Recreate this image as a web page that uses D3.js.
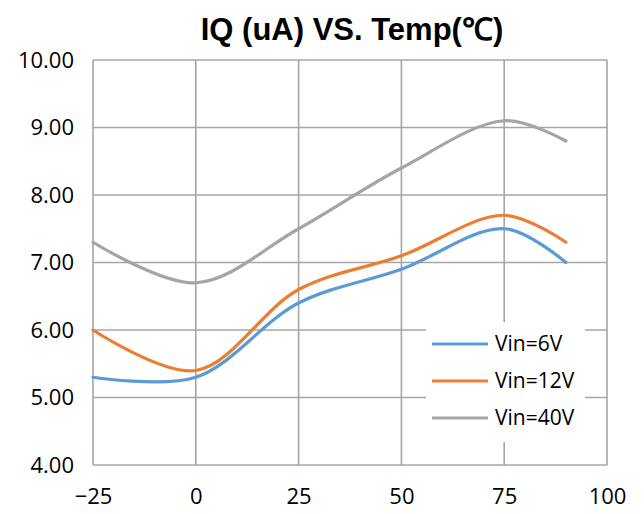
<!DOCTYPE html>
<html><head><meta charset="utf-8">
<script src="https://cdn.jsdelivr.net/npm/d3@7"></script>
<style>body{margin:0;background:#fff}svg{display:block}</style>
</head><body>
<script>
const temps = [-25, 0, 25, 50, 75, 90];
const vin6 = [5.30, 5.30, 6.40, 6.90, 7.50, 7.00];
const vin12 = [6.00, 5.40, 6.60, 7.10, 7.70, 7.30];
const vin40 = [7.30, 6.70, 7.50, 8.40, 9.10, 8.80];
const seriesNames = ["Vin=6V", "Vin=12V", "Vin=40V"];
const seriesColors = ["#5B9BD5", "#ED7D31", "#A5A5A5"];
const xTicks = [-25, 0, 25, 50, 75, 100];
const yTicks = [4, 5, 6, 7, 8, 9, 10];
const title = "IQ (uA) VS. Temp(\u2103)";

const W = 644, H = 514;
const svg = d3.select("body").append("svg").attr("width", W).attr("height", H);
const x = d3.scaleLinear().domain([-25, 100]).range([93, 607]);
const y = d3.scaleLinear().domain([4, 10]).range([465, 60]);
const font = "'Open Sans', sans-serif";

// grid
svg.append("g").selectAll("line.h").data(yTicks).join("line")
  .attr("x1", x(-25)).attr("x2", x(100)).attr("y1", d => y(d)).attr("y2", d => y(d))
  .attr("stroke", "#A6A6A6").attr("stroke-width", 1.6);
svg.append("g").selectAll("line.v").data(xTicks).join("line")
  .attr("y1", y(4)).attr("y2", y(10)).attr("x1", d => x(d)).attr("x2", d => x(d))
  .attr("stroke", "#A6A6A6").attr("stroke-width", 1.6);

// axes labels
const yAxis = d3.axisLeft(y).tickValues(yTicks).tickFormat(d3.format(".2f")).tickSize(0).tickPadding(19);
const gy = svg.append("g").attr("transform", `translate(${x(-25)},0)`).call(yAxis);
gy.select(".domain").remove();
gy.selectAll("text").attr("font-family", font).attr("font-size", 22).attr("fill", "#000");

const xAxis = d3.axisBottom(x).tickValues(xTicks).tickFormat(d3.format("d")).tickSize(0).tickPadding(23);
const gx = svg.append("g").attr("transform", `translate(0,${y(4)})`).call(xAxis);
gx.select(".domain").remove();
gx.selectAll("text").attr("font-family", font).attr("font-size", 22).attr("fill", "#000");

// lines
const data = [vin6, vin12, vin40];
const line = d3.line().x((d, i) => x(temps[i])).y(d => y(d)).curve(d3.curveCatmullRom.alpha(0.5));
svg.append("g").selectAll("path").data(data).join("path")
  .attr("d", d => line(d)).attr("fill", "none")
  .attr("stroke", (d, i) => seriesColors[i]).attr("stroke-width", 3.2)
  .attr("stroke-linecap", "round");

// legend
const lg = svg.append("g");
lg.append("rect").attr("x", 426).attr("y", 322).attr("width", 159).attr("height", 120).attr("fill", "#fff");
seriesNames.forEach((n, i) => {
  const cy = 344 + i * 37;
  lg.append("line").attr("x1", 432).attr("x2", 488).attr("y1", cy).attr("y2", cy)
    .attr("stroke", seriesColors[i]).attr("stroke-width", 3.2);
  lg.append("text").attr("x", 495).attr("y", cy).attr("dy", "0.35em")
    .attr("font-family", font).attr("font-size", 21).text(n);
});

// title
svg.append("text").attr("x", 352).attr("y", 40).attr("text-anchor", "middle")
  .attr("font-family", "'Liberation Sans', Arial, sans-serif").attr("font-weight", "bold")
  .attr("font-size", 31).text(title);
</script>
</body></html>
